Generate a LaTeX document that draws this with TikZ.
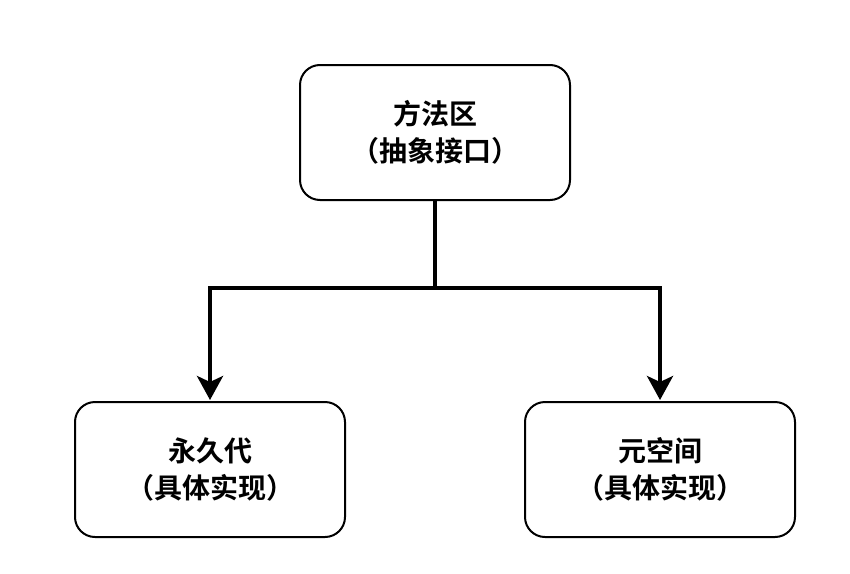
\documentclass[tikz,border=0pt]{standalone}
\usepackage{fontspec}
\newfontfamily\cjk{Noto Sans CJK SC}[BoldFont={Noto Sans CJK SC Bold}]
\usetikzlibrary{arrows.meta}
\tikzset{
  box/.style={draw=black, line width=2pt, rounded corners=20pt, minimum width=270pt, minimum height=135pt, align=center, font=\cjk\bfseries\fontsize{28}{37}\selectfont, inner sep=0pt},
  conn/.style={line width=4pt, -{Stealth[length=24pt,width=26pt,inset=6pt]}}
}
\begin{document}
\begin{tikzpicture}[x=1pt,y=-1pt]
\useasboundingbox (0,0) rectangle (850,573);
\node[box] (top) at (435,132.5) {方法区\\（抽象接口）};
\node[box] (left) at (210,469.5) {永久代\\（具体实现）};
\node[box] (right) at (660,469.5) {元空间\\（具体实现）};
\coordinate (j) at (435,288);
\draw[line width=4pt] (top.south) -- (j);
\draw[conn] (j) -| ([yshift=1pt]left.north);
\draw[conn] (j) -| ([yshift=1pt]right.north);
\end{tikzpicture}
\end{document}
